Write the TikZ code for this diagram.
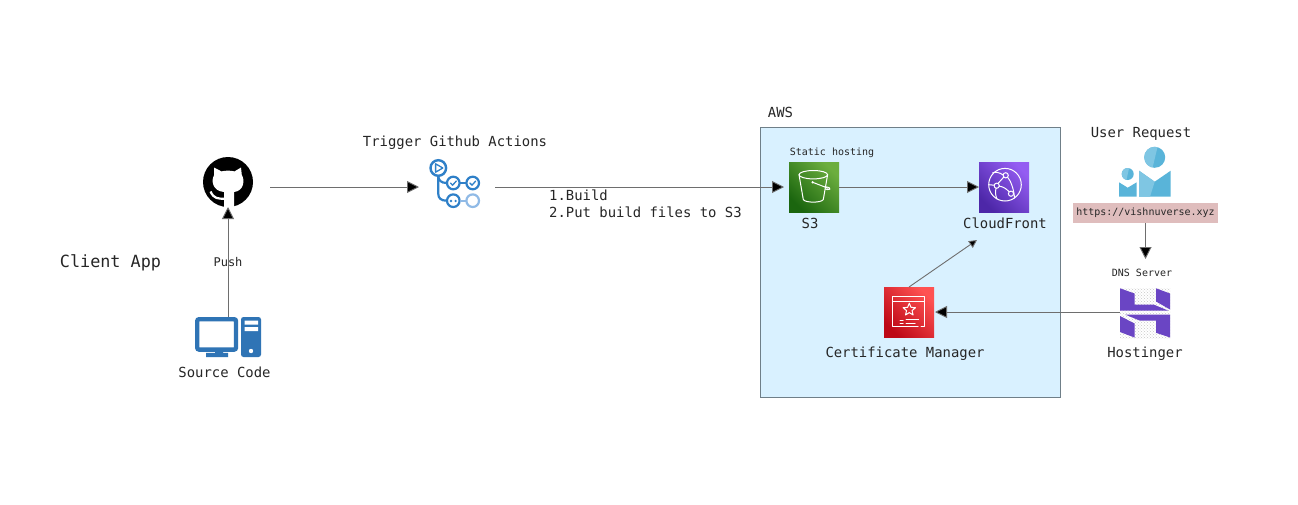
\documentclass[tikz,border=0pt]{standalone}
\usepackage{fontspec}
\setmainfont{DejaVu Sans Mono}
\usetikzlibrary{arrows.meta,patterns}
\definecolor{conn}{HTML}{6E6E6E}
\definecolor{awsfill}{HTML}{D9F1FF}
\definecolor{awsedge}{HTML}{6F7F88}
\definecolor{pcblue}{HTML}{2F74B5}
\definecolor{ghblue}{HTML}{2F80C8}
\definecolor{ghlight}{HTML}{90BAE6}
\definecolor{urlbg}{HTML}{DFBDBD}
\definecolor{hpurple}{HTML}{6A45C4}
\definecolor{uone}{HTML}{59B4D9}
\definecolor{utwo}{HTML}{7FC6E3}
\tikzset{
  x=1pt,y=-1pt,
  conn/.style={draw=conn,line width=0.9pt,-{Triangle[length=12pt,width=12pt,fill=black]}},
  iconbox/.style={inner sep=0pt,outer sep=0pt,minimum width=50pt,minimum height=50pt,draw=none},
  glyph/.style={draw=white,line width=1pt,line join=round,line cap=round},
  lab/.style={inner sep=0pt,text=black!85,font=\fontsize{13.9}{17}\selectfont},
  smalllab/.style={inner sep=0pt,text=black!85,font=\fontsize{10}{12}\selectfont},
  flow/.style={draw=ghblue,line width=2.2pt,line cap=round},
  tick/.style={draw=ghblue,line width=1.3pt,line cap=round,line join=round},
}
\begin{document}
\begin{tikzpicture}
\useasboundingbox (0,0) rectangle (1298,504);
\fill[white] (0,0) rectangle (1298,504);

% AWS panel
\node[draw=awsedge,fill=awsfill,line width=0.8pt,inner sep=0pt,minimum width=300pt,minimum height=270pt] (aws) at (910,262) {};

% anchors for icons
\node[iconbox,minimum width=84pt,minimum height=40pt] (gh) at (228,187) {};
\node[iconbox,minimum width=66pt,minimum height=40pt] (pc) at (228,337) {};
\node[iconbox,minimum width=76pt,minimum height=40pt] (act) at (457,187) {};
\node[iconbox] (s3) at (814,187) {};
\node[iconbox] (cf) at (1004,187) {};
\node[iconbox] (cm) at (909,312) {};
\node[iconbox] (host) at (1145,312) {};

% GitHub
\fill[black] (228,182) circle (25);
\fill[white] (214,167.5) -- (221.5,171.4) .. controls (225,170.4) and (231,170.4) .. (234.5,171.4) -- (241,167.5)
  -- (241.8,175) .. controls (245,180) and (244,191) .. (234,192)
  -- (234,208) -- (224,208) -- (224,192)
  .. controls (212,191) and (211,180) .. (214.2,175) -- cycle;
\draw[white,line width=2.2pt] (210.5,191.5) .. controls (214,199) and (218,198.5) .. (224,198.8);

% Computer
\draw[pcblue,line width=4.4pt,rounded corners=2pt,fill=white] (197.2,319.2) rectangle (236,349.6);
\fill[pcblue] (215,350) rectangle (223,354) (206,352.8) rectangle (228,357);
\fill[pcblue,rounded corners=2.5pt] (241,317) rectangle (261,357);
\fill[white] (244.5,320.5) rectangle (258,324.5) (244.5,327) rectangle (258,331);
\fill[white] (251,351) circle (2.2);

% GitHub Actions
\draw[ghblue,line width=2.4pt] (438.3,168) circle (7.8);
\draw[tick] (435.6,163.8) -- (435.6,172.2) -- (442.8,168) -- cycle;
\draw[flow] (438.3,176) -- (438.3,194) .. controls (438.3,198) and (441,200.7) .. (446.5,200.7);
\draw[flow] (438.3,176) .. controls (438.3,180) and (441,183) .. (446.5,183);
\draw[flow] (460,183) -- (466,183);
\draw[flow] (453.3,183) circle (6.3);
\draw[flow] (472.7,183) circle (6.3);
\draw[flow] (453.3,200.7) circle (6.3);
\draw[ghlight,line width=2.2pt] (472.7,200.7) circle (6.3);
\draw[ghlight,line width=2.2pt] (460,200.7) -- (466,200.7);
\draw[tick] (450.5,183) -- (452.6,185.2) -- (456.3,181);
\draw[tick] (469.9,183) -- (472,185.2) -- (475.7,181);
\fill[ghblue] (451,201) circle (1.3) (455.6,201) circle (1.3);

% S3
\shade[bottom color={rgb,255:red,27;green,102;blue,15},top color={rgb,255:red,108;green,174;blue,62},shading angle=-45] (789,162) rectangle (839,212);
\draw[glyph] (813.3,174.7) ellipse[x radius=14.3,y radius=4.2];
\draw[glyph] (799,174.7) -- (803.3,199.5) .. controls (805,203) and (821.6,203) .. (823.3,199.5) -- (827.6,174.7);
\draw[glyph] (812.7,182.3) -- (828,188.2);
\draw[glyph] (825,186.8) .. controls (829,187) and (831,188.5) .. (829.8,189.2) .. controls (828.5,190) and (826.5,189.4) .. (825.5,189);
\fill[white] (812.7,182.3) circle (1.3);

% CloudFront
\shade[bottom color={rgb,255:red,77;green,39;blue,168},top color={rgb,255:red,148;green,93;blue,242},shading angle=-45] (979,162) rectangle (1029,212);
\draw[glyph] (1005,184.7) circle (16.3);
\draw[glyph] (1005.7,175.3) circle (2.6);
\draw[glyph] (996.7,185.7) circle (2.6);
\draw[glyph] (1011,193.7) circle (2.6);
\draw[glyph] (998,183.5) -- (1003.8,177);
\draw[glyph] (999.2,186.2) .. controls (1003,186.6) and (1006,188.5) .. (1009,191.6);
\draw[glyph] (1003.1,175) .. controls (1000,172.5) and (995,171.5) .. (992.5,173);
\draw[glyph] (1007.6,177.2) .. controls (1011,181) and (1014,190) .. (1014.5,198);
\draw[glyph] (996,188.4) .. controls (995,192) and (995.6,196) .. (997,199);
\draw[glyph] (994.1,185.2) -- (989,184.7);

% Certificate Manager
\shade[bottom color={rgb,255:red,189;green,8;blue,22},top color={rgb,255:red,255;green,82;blue,82},shading angle=-45] (884,287) rectangle (934,337);
\draw[glyph] (921,326.3) -- (924.3,326.3) -- (924.3,296.3) -- (892.7,296.3) -- (892.7,326.3) -- (918,326.3);
\draw[glyph] (892.7,301) -- (924.3,301);
\draw[glyph] (909.3,303.2) -- (911,307.35) -- (915.5,307.7) -- (912.06,310.6) -- (913.1,315) -- (909.3,312.6) -- (905.5,315) -- (906.54,310.6) -- (903.1,307.7) -- (907.6,307.35) -- cycle;
\draw[glyph] (900,320) -- (903,320) (906,319.5) -- (918.5,319.5) (900,323) -- (903,323) (906,323) -- (915,323);

% User
\fill[uone] (1154.7,157.3) circle (10.5);
\begin{scope}
\clip (1154.7,157.3) circle (10.5);
\fill[utwo] (1140,145) -- (1158,145) -- (1152,170) -- (1140,170) -- cycle;
\end{scope}
\fill[uone] (1127.7,174) circle (6);
\begin{scope}
\clip (1127.7,174) circle (6);
\fill[utwo] (1120,166) -- (1129.5,166) -- (1126,182) -- (1120,182) -- cycle;
\end{scope}
\fill[uone] (1170.7,170.7) -- (1154.7,181.7) -- (1139,170.7) -- (1139,196.7) -- (1170.7,196.7) -- cycle;
\fill[utwo] (1139,170.7) -- (1154.7,181.7) -- (1150,196.7) -- (1139,196.7) -- cycle;
\fill[uone] (1136.7,182.3) -- (1127.7,187.7) -- (1119,182.3) -- (1119,196.7) -- (1136.7,196.7) -- cycle;

% URL
\node[fill=urlbg,inner sep=0pt,minimum width=145pt,minimum height=20pt,text=black!85,font=\fontsize{10}{12}\selectfont] (url) at (1145.5,213) {https://vishnuverse.xyz};

% Hostinger
\fill[pattern=crosshatch dots,pattern color=black!22] (1120,288) rectangle (1170,338);
\fill[hpurple] (1120,288.3) -- (1134.5,293.5) -- (1134.5,304.5) -- (1153.5,304.5) -- (1168.5,310.7) -- (1120,310.7) -- cycle;
\fill[hpurple] (1156,288.3) -- (1170,293.5) -- (1170,309.5) -- (1156,301.5) -- cycle;
\fill[hpurple] (1125,314.5) -- (1170,314.5) -- (1170,337.5) -- (1156,332.8) -- (1156,320.7) -- (1140,320.7) -- cycle;
\fill[hpurple] (1120,316) -- (1134.5,323.5) -- (1134.5,337.5) -- (1120,332) -- cycle;

% Connectors
\draw[conn] (pc.north) -- (gh.south);
\draw[conn] (gh.east) -- (act.west);
\draw[conn,shorten >=5pt] (act.east) -- (s3.west);
\draw[conn] (s3.east) -- (cf.west);
\coordinate (cfin) at (977,240);
\draw[conn,-{Triangle[length=8pt,width=8pt,fill=black]}] (cm.north) -- (cfin);
\draw[conn,shorten >=1pt] (host.west) -- (cm.east);
\coordinate (dnsin) at (1145.5,259);
\draw[conn] (url.south) -- (dnsin);

% Labels
\node[inner sep=0pt,text=black!85,font=\fontsize{16.8}{20}\selectfont] (client) at (110.5,263) {Client App};
\node[lab] (srclab) at (224.5,372.5) {Source Code};
\node[inner sep=0pt,text=black!85,font=\fontsize{12}{14}\selectfont] (push) at (228,262) {Push};
\node[lab] (trig) at (455,143) {Trigger Github Actions};
\node[inner sep=0pt,anchor=west,align=left,text=black!85,font=\fontsize{13.9}{17}\selectfont] (steps) at (549,204) {1.Build\\2.Put build files to S3};
\node[smalllab] (static) at (832,153) {Static hosting};
\node[lab] (s3lab) at (810,223) {S3};
\node[lab] (cflab) at (1005,223) {CloudFront};
\node[lab] (cmlab) at (905,353.5) {Certificate Manager};
\node[lab] (awslab) at (780.5,112.5) {AWS};
\node[lab] (user) at (1141,133.5) {User Request};
\node[smalllab] (dns) at (1142,273) {DNS Server};
\node[lab] (hostlab) at (1145,353.5) {Hostinger};
\end{tikzpicture}
\end{document}
